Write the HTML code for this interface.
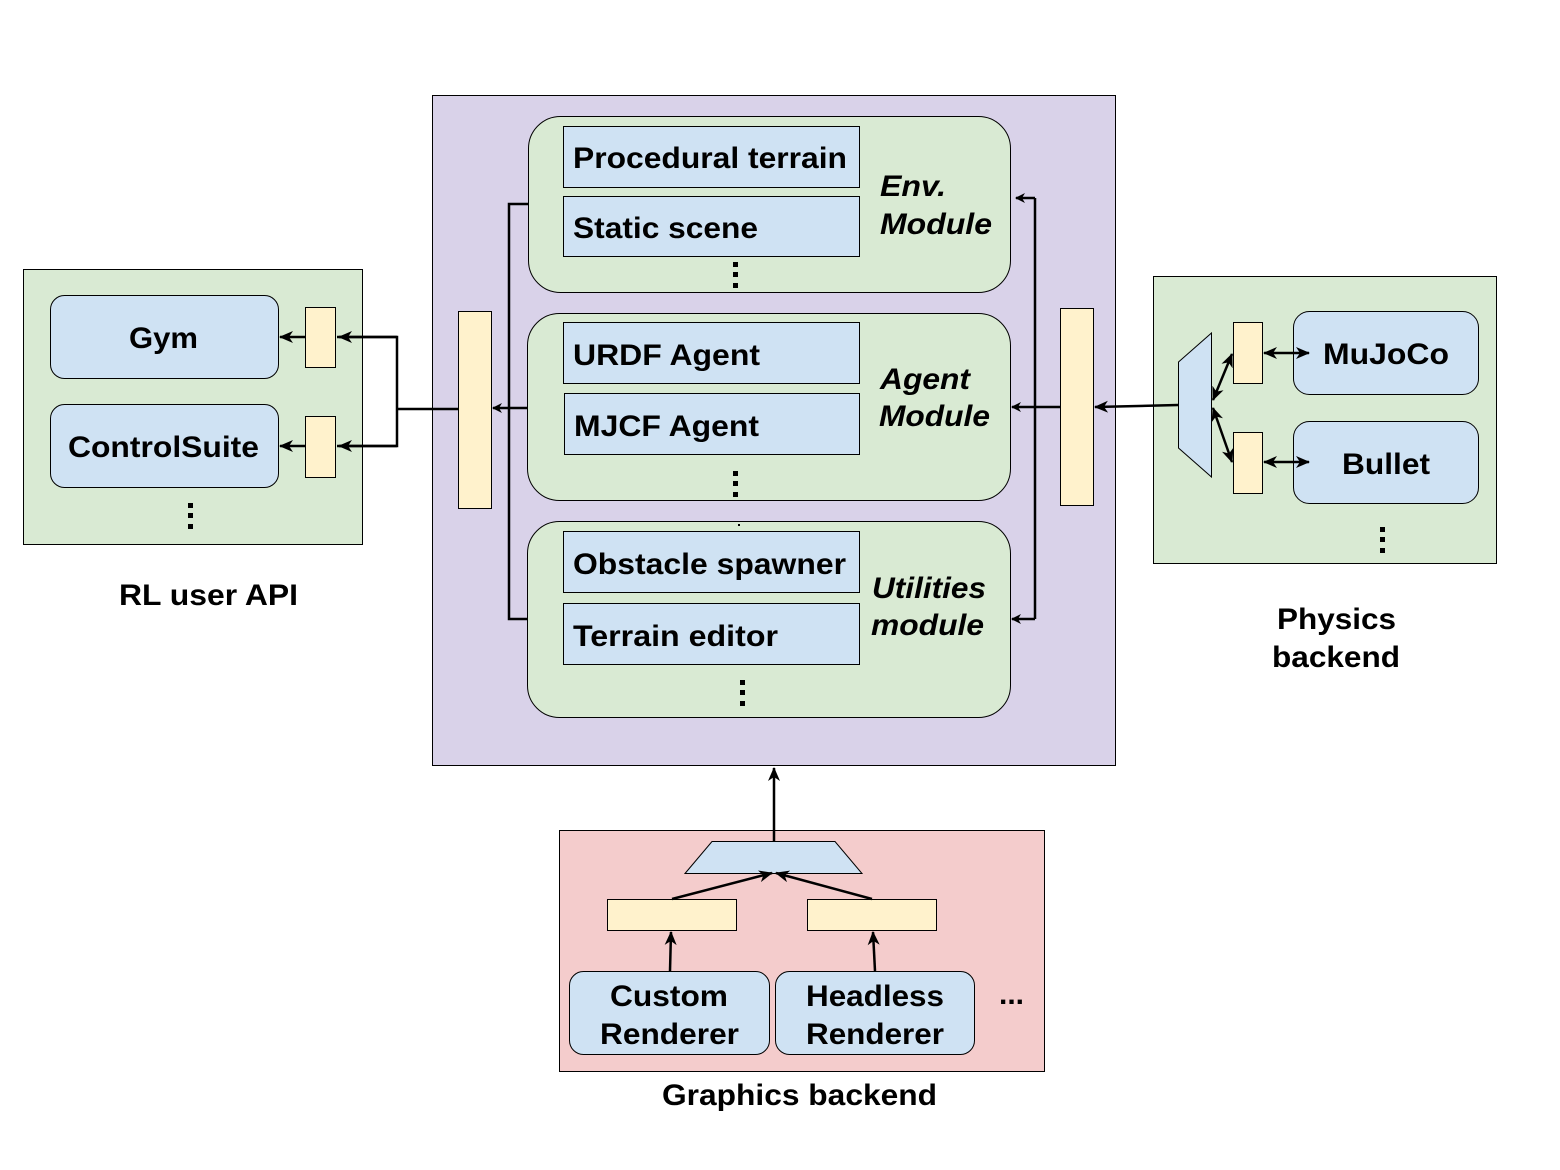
<!DOCTYPE html>
<html><head><meta charset="utf-8"><style>html,body{margin:0;padding:0;background:#fff}svg{display:block}text{font-family:"Liberation Sans",Arial,sans-serif;font-weight:bold;fill:#000}</style></head><body>
<svg width="1560" height="1170" viewBox="0 0 1560 1170" xmlns="http://www.w3.org/2000/svg">
<defs>
<marker id="a" markerWidth="10" markerHeight="10" refX="9" refY="5" orient="auto" markerUnits="userSpaceOnUse"><path d="M0,0 L10,5 L0,10 L3,5 z" fill="#000"/></marker>
<marker id="b" markerWidth="14" markerHeight="12" refX="13" refY="6" orient="auto" markerUnits="userSpaceOnUse"><path d="M0,0 L14,6 L0,12 L4,6 z" fill="#000"/></marker>
<marker id="bs" markerWidth="14" markerHeight="12" refX="1" refY="6" orient="auto" markerUnits="userSpaceOnUse"><path d="M14,0 L0,6 L14,12 L10,6 z" fill="#000"/></marker>
</defs>
<g stroke="#000" stroke-width="1">
<rect x="432.5" y="95.5" width="683" height="670" fill="#d9d2e9"/>
<rect x="23.5" y="269.5" width="339" height="275" fill="#d9ead3"/>
<rect x="1153.5" y="276.5" width="343" height="287" fill="#d9ead3"/>
<rect x="559.5" y="830.5" width="485" height="241" fill="#f4cccc"/>
<rect x="528.5" y="116.5" width="482" height="176" rx="32" fill="#d9ead3"/>
<rect x="527.5" y="313.5" width="483" height="187" rx="32" fill="#d9ead3"/>
<rect x="527.5" y="521.5" width="483" height="196" rx="32" fill="#d9ead3"/>
<rect x="563.5" y="126.5" width="296" height="61" fill="#cfe2f3"/>
<rect x="563.5" y="196.5" width="296" height="60" fill="#cfe2f3"/>
<rect x="563.5" y="322.5" width="296" height="61" fill="#cfe2f3"/>
<rect x="564.5" y="393.5" width="295" height="61" fill="#cfe2f3"/>
<rect x="563.5" y="531.5" width="296" height="61" fill="#cfe2f3"/>
<rect x="563.5" y="603.5" width="296" height="61" fill="#cfe2f3"/>
<rect x="458.5" y="311.5" width="33" height="197" fill="#fff2cc"/>
<rect x="1060.5" y="308.5" width="33" height="197" fill="#fff2cc"/>
<rect x="50.5" y="295.5" width="228" height="83" rx="14" fill="#cfe2f3"/>
<rect x="50.5" y="404.5" width="228" height="83" rx="14" fill="#cfe2f3"/>
<rect x="305.5" y="307.5" width="30" height="60" fill="#fff2cc"/>
<rect x="305.5" y="416.5" width="30" height="61" fill="#fff2cc"/>
<rect x="1293.5" y="311.5" width="185" height="83" rx="16" fill="#cfe2f3"/>
<rect x="1293.5" y="421.5" width="185" height="82" rx="16" fill="#cfe2f3"/>
<rect x="1233.5" y="322.5" width="29" height="61" fill="#fff2cc"/>
<rect x="1233.5" y="432.5" width="29" height="61" fill="#fff2cc"/>
<polygon points="1178.5,362 1211.5,333 1211.5,477 1178.5,448" fill="#cfe2f3"/>
<polygon points="685,873.5 712,841.5 835,841.5 862,873.5" fill="#cfe2f3"/>
<rect x="607.5" y="899.5" width="129" height="31" fill="#fff2cc"/>
<rect x="807.5" y="899.5" width="129" height="31" fill="#fff2cc"/>
<rect x="569.5" y="971.5" width="200" height="83" rx="14" fill="#cfe2f3"/>
<rect x="775.5" y="971.5" width="199" height="83" rx="14" fill="#cfe2f3"/>
</g>
<g stroke="#000" stroke-width="2.5" fill="none">
<polyline points="528,204 509,204 509,619 527,619"/>
<line x1="527" y1="408" x2="493" y2="408" marker-end="url(#a)"/>
<line x1="458" y1="409" x2="397" y2="409"/>
<polyline points="337,337 397,337 397,446 337,446"/>
<line x1="397" y1="337" x2="339" y2="337" marker-end="url(#b)"/>
<line x1="397" y1="446" x2="339" y2="446" marker-end="url(#b)"/>
<line x1="305" y1="337" x2="280" y2="337" marker-end="url(#b)"/>
<line x1="305" y1="446" x2="280" y2="446" marker-end="url(#b)"/>
<polyline points="1035,407 1035,198"/>
<line x1="1035" y1="619" x2="1035" y2="407"/>
<line x1="1035" y1="198" x2="1016" y2="198" marker-end="url(#a)"/>
<line x1="1060" y1="407" x2="1012" y2="407" marker-end="url(#a)"/>
<line x1="1035" y1="619" x2="1012" y2="619" marker-end="url(#a)"/>
<line x1="1178" y1="405" x2="1095" y2="407" marker-end="url(#b)"/>
<line x1="1213" y1="400" x2="1232" y2="354" marker-end="url(#b)" marker-start="url(#bs)"/>
<line x1="1213" y1="408" x2="1232" y2="462" marker-end="url(#b)" marker-start="url(#bs)"/>
<line x1="1264" y1="353" x2="1309" y2="353" marker-end="url(#b)" marker-start="url(#bs)"/>
<line x1="1264" y1="462" x2="1309" y2="462" marker-end="url(#b)" marker-start="url(#bs)"/>
<line x1="774" y1="841" x2="774" y2="768" marker-end="url(#b)"/>
<line x1="672" y1="899" x2="772" y2="873" marker-end="url(#b)"/>
<line x1="872" y1="899" x2="776" y2="873" marker-end="url(#b)"/>
<line x1="670" y1="971" x2="671" y2="932" marker-end="url(#b)"/>
<line x1="875" y1="971" x2="873" y2="932" marker-end="url(#b)"/>
</g>
<g fill="#000">
<rect x="733" y="262" width="5" height="5"/><rect x="733" y="272" width="5" height="5"/><rect x="733" y="283" width="5" height="5"/>
<rect x="733" y="471" width="5" height="5"/><rect x="733" y="481" width="5" height="5"/><rect x="733" y="492" width="5" height="5"/>
<rect x="740" y="680" width="5" height="5"/><rect x="740" y="690" width="5" height="5"/><rect x="740" y="701" width="5" height="5"/>
<rect x="188" y="503" width="5" height="5"/><rect x="188" y="513" width="5" height="5"/><rect x="188" y="524" width="5" height="5"/>
<rect x="1380" y="527" width="5" height="5"/><rect x="1380" y="537" width="5" height="5"/><rect x="1380" y="548" width="5" height="5"/>
<rect x="738" y="524" width="2" height="2"/>
</g>
<g font-size="30" lengthAdjust="spacingAndGlyphs">
<text x="573" y="168" textLength="274" lengthAdjust="spacingAndGlyphs">Procedural terrain</text>
<text x="573" y="238" textLength="185" lengthAdjust="spacingAndGlyphs">Static scene</text>
<text x="573" y="365" textLength="187" lengthAdjust="spacingAndGlyphs">URDF Agent</text>
<text x="574" y="436" textLength="185" lengthAdjust="spacingAndGlyphs">MJCF Agent</text>
<text x="573" y="574" textLength="273" lengthAdjust="spacingAndGlyphs">Obstacle spawner</text>
<text x="573" y="646" textLength="205" lengthAdjust="spacingAndGlyphs">Terrain editor</text>
<g font-style="italic">
<text x="880" y="196" textLength="66" lengthAdjust="spacingAndGlyphs">Env.</text><text x="880" y="234" textLength="112" lengthAdjust="spacingAndGlyphs">Module</text>
<text x="880" y="389" textLength="90" lengthAdjust="spacingAndGlyphs">Agent</text><text x="879" y="426" textLength="111" lengthAdjust="spacingAndGlyphs">Module</text>
<text x="872" y="598" textLength="114" lengthAdjust="spacingAndGlyphs">Utilities</text><text x="871" y="635" textLength="113" lengthAdjust="spacingAndGlyphs">module</text>
</g>
<text x="129" y="348" textLength="69" lengthAdjust="spacingAndGlyphs">Gym</text>
<text x="68" y="457" textLength="191" lengthAdjust="spacingAndGlyphs">ControlSuite</text>
<text x="1323" y="364" textLength="126" lengthAdjust="spacingAndGlyphs">MuJoCo</text>
<text x="1342" y="474" textLength="88" lengthAdjust="spacingAndGlyphs">Bullet</text>
<text x="610" y="1006" textLength="118" lengthAdjust="spacingAndGlyphs">Custom</text><text x="600" y="1044" textLength="139" lengthAdjust="spacingAndGlyphs">Renderer</text>
<text x="806" y="1006" textLength="138" lengthAdjust="spacingAndGlyphs">Headless</text><text x="806" y="1044" textLength="138" lengthAdjust="spacingAndGlyphs">Renderer</text>
<text x="999" y="1004">...</text>
<text x="119" y="605" textLength="179" lengthAdjust="spacingAndGlyphs">RL user API</text>
<text x="1277" y="629" textLength="119" lengthAdjust="spacingAndGlyphs">Physics</text><text x="1272" y="667" textLength="128" lengthAdjust="spacingAndGlyphs">backend</text>
<text x="662" y="1105" textLength="275" lengthAdjust="spacingAndGlyphs">Graphics backend</text>
</g>
</svg>
</body></html>
